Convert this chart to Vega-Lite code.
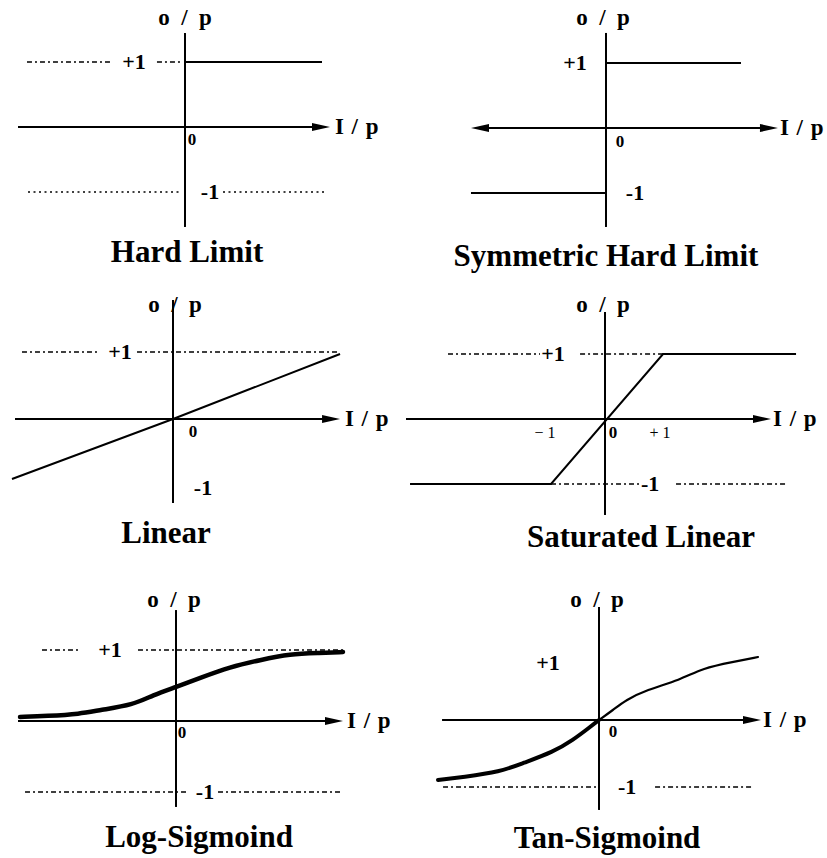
{
"$schema": "https://vega.github.io/schema/vega-lite/v6.json",
"padding": 0,
"background": "white",
"spacing": 0,
"bounds": "flush",
"columns": 2,
"config": {"view": {"stroke": null}, "text": {"font": "Liberation Serif", "color": "black"}},
"concat": [
{"width": 413, "height": 286,
 "data": {"values": [
  {"r": "solid", "x": -2.569, "y": 0, "x2": 1.985, "y2": 0},
  {"r": "solid", "x": 0, "y": 1.446, "x2": 0, "y2": -1.538},
  {"r": "solid", "x": 0, "y": 1, "x2": 2.108, "y2": 1},
  {"r": "dash", "x": -2.431, "y": 1, "x2": -1.108, "y2": 1},
  {"r": "dash", "x": -0.431, "y": 1, "x2": -0.077, "y2": 1},
  {"r": "dot", "x": -2.415, "y": -1, "x2": -0.046, "y2": -1},
  {"r": "dot", "x": 0.585, "y": -1, "x2": 2.154, "y2": -1},
  {"r": "arrowR", "x": 2.231, "y": 0},
  {"r": "lab", "x": -0.785, "y": 1, "t": "+1"},
  {"r": "lab", "x": 0.385, "y": -1, "t": "-1"},
  {"r": "op", "x": 0, "y": 1.677, "t": "o\u2002/\u2002p"},
  {"r": "ip", "x": 2.308, "y": 0, "t": "I\u2004/\u2004p"},
  {"r": "zero", "x": 0.108, "y": -0.2, "t": "0"},
  {"r": "title", "x": 0.031, "y": -2.077, "t": "Hard Limit"}
 ]},
 "encoding": {
  "x": {"field": "x", "type": "quantitative", "scale": {"domain": [-2.846, 3.508], "nice": false, "zero": false}, "axis": null},
  "y": {"field": "y", "type": "quantitative", "scale": {"domain": [-2.446, 1.954], "nice": false, "zero": false}, "axis": null}
 },
 "layer": [
  {"transform": [{"filter": "datum.r == 'solid'"}], "mark": {"type": "rule", "strokeWidth": 2, "color": "black"}, "encoding": {"x2": {"field": "x2"}, "y2": {"field": "y2"}}},
  {"transform": [{"filter": "datum.r == 'dash'"}], "mark": {"type": "rule", "strokeWidth": 1.5, "strokeDash": [5, 3, 2, 3], "color": "black"}, "encoding": {"x2": {"field": "x2"}, "y2": {"field": "y2"}}},
  {"transform": [{"filter": "datum.r == 'dot'"}], "mark": {"type": "rule", "strokeWidth": 1.5, "strokeDash": [2, 3.5], "color": "black"}, "encoding": {"x2": {"field": "x2"}, "y2": {"field": "y2"}}},
  {"transform": [{"filter": "datum.r == 'arrowR'"}], "mark": {"type": "point", "shape": "M-1,-0.45L1,0L-1,0.45Z", "filled": true, "size": 324, "color": "black", "opacity": 1, "xOffset": -9}},
  {"transform": [{"filter": "datum.r == 'lab'"}], "mark": {"type": "text", "fontSize": 22, "fontWeight": "bold"}, "encoding": {"text": {"field": "t"}}},
  {"transform": [{"filter": "datum.r == 'op'"}], "mark": {"type": "text", "fontSize": 23, "fontWeight": "bold"}, "encoding": {"text": {"field": "t"}}},
  {"transform": [{"filter": "datum.r == 'ip'"}], "mark": {"type": "text", "fontSize": 23, "fontWeight": "bold", "align": "left"}, "encoding": {"text": {"field": "t"}}},
  {"transform": [{"filter": "datum.r == 'zero'"}], "mark": {"type": "text", "fontSize": 17, "fontWeight": "bold"}, "encoding": {"text": {"field": "t"}}},
  {"transform": [{"filter": "datum.r == 'title'"}], "mark": {"type": "text", "fontSize": 31, "fontWeight": "bold", "baseline": "alphabetic"}, "encoding": {"text": {"field": "t"}}}
 ]
},
{"width": 413, "height": 286,
 "data": {"values": [
  {"r": "solid", "x": -1.831, "y": 0, "x2": 2.4, "y2": 0},
  {"r": "solid", "x": 0, "y": 1.462, "x2": 0, "y2": -1.523},
  {"r": "solid", "x": 0, "y": 1, "x2": 2.077, "y2": 1},
  {"r": "solid", "x": -2.077, "y": -1, "x2": 0, "y2": -1},
  {"r": "arrowR", "x": 2.646, "y": 0},
  {"r": "arrowL", "x": -2.077, "y": 0},
  {"r": "lab", "x": -0.477, "y": 1, "t": "+1"},
  {"r": "lab", "x": 0.446, "y": -1, "t": "-1"},
  {"r": "op", "x": -0.046, "y": 1.692, "t": "o\u2002/\u2002p"},
  {"r": "ip", "x": 2.677, "y": 0, "t": "I\u2004/\u2004p"},
  {"r": "zero", "x": 0.215, "y": -0.215, "t": "0"},
  {"r": "title", "x": 0, "y": -2.123, "t": "Symmetric Hard Limit"}
 ]},
 "encoding": {
  "x": {"field": "x", "type": "quantitative", "scale": {"domain": [-2.969, 3.385], "nice": false, "zero": false}, "axis": null},
  "y": {"field": "y", "type": "quantitative", "scale": {"domain": [-2.431, 1.969], "nice": false, "zero": false}, "axis": null}
 },
 "layer": [
  {"transform": [{"filter": "datum.r == 'solid'"}], "mark": {"type": "rule", "strokeWidth": 2, "color": "black"}, "encoding": {"x2": {"field": "x2"}, "y2": {"field": "y2"}}},
  {"transform": [{"filter": "datum.r == 'arrowR'"}], "mark": {"type": "point", "shape": "M-1,-0.45L1,0L-1,0.45Z", "filled": true, "size": 324, "color": "black", "opacity": 1, "xOffset": -9}},
  {"transform": [{"filter": "datum.r == 'arrowL'"}], "mark": {"type": "point", "shape": "M1,-0.45L-1,0L1,0.45Z", "filled": true, "size": 324, "color": "black", "opacity": 1, "xOffset": 9}},
  {"transform": [{"filter": "datum.r == 'lab'"}], "mark": {"type": "text", "fontSize": 22, "fontWeight": "bold"}, "encoding": {"text": {"field": "t"}}},
  {"transform": [{"filter": "datum.r == 'op'"}], "mark": {"type": "text", "fontSize": 23, "fontWeight": "bold"}, "encoding": {"text": {"field": "t"}}},
  {"transform": [{"filter": "datum.r == 'ip'"}], "mark": {"type": "text", "fontSize": 23, "fontWeight": "bold", "align": "left"}, "encoding": {"text": {"field": "t"}}},
  {"transform": [{"filter": "datum.r == 'zero'"}], "mark": {"type": "text", "fontSize": 17, "fontWeight": "bold"}, "encoding": {"text": {"field": "t"}}},
  {"transform": [{"filter": "datum.r == 'title'"}], "mark": {"type": "text", "fontSize": 31, "fontWeight": "bold", "baseline": "alphabetic"}, "encoding": {"text": {"field": "t"}}}
 ]
},
{"width": 413, "height": 286,
 "data": {"values": [
  {"r": "solid", "x": -2.358, "y": 0, "x2": 2.254, "y2": 0},
  {"r": "solid", "x": 0, "y": 1.776, "x2": 0, "y2": -1.254},
  {"r": "fn", "x": -2.403, "y": -0.896},
  {"r": "fn", "x": 0, "y": 0},
  {"r": "fn", "x": 2.493, "y": 0.97},
  {"r": "dash", "x": -2.254, "y": 1, "x2": -1.134, "y2": 1},
  {"r": "dash", "x": -0.537, "y": 1, "x2": 2.448, "y2": 1},
  {"r": "arrowR", "x": 2.493, "y": 0},
  {"r": "lab", "x": -0.791, "y": 1, "t": "+1"},
  {"r": "lab", "x": 0.448, "y": -1.03, "t": "-1"},
  {"r": "op", "x": 0.03, "y": 1.701, "t": "o\u2002/\u2002p"},
  {"r": "ip", "x": 2.567, "y": 0, "t": "I\u2004/\u2004p"},
  {"r": "zero", "x": 0.299, "y": -0.194, "t": "0"},
  {"r": "title", "x": -0.104, "y": -1.851, "t": "Linear"}
 ]},
 "encoding": {
  "x": {"field": "x", "type": "quantitative", "scale": {"domain": [-2.582, 3.582], "nice": false, "zero": false}, "axis": null},
  "y": {"field": "y", "type": "quantitative", "scale": {"domain": [-2.284, 1.985], "nice": false, "zero": false}, "axis": null}
 },
 "layer": [
  {"transform": [{"filter": "datum.r == 'solid'"}], "mark": {"type": "rule", "strokeWidth": 2, "color": "black"}, "encoding": {"x2": {"field": "x2"}, "y2": {"field": "y2"}}},
  {"transform": [{"filter": "datum.r == 'dash'"}], "mark": {"type": "rule", "strokeWidth": 1.5, "strokeDash": [5, 3, 2, 3], "color": "black"}, "encoding": {"x2": {"field": "x2"}, "y2": {"field": "y2"}}},
  {"transform": [{"filter": "datum.r == 'fn'"}], "mark": {"type": "line", "strokeWidth": 2, "color": "black"}, "encoding": {}},
  {"transform": [{"filter": "datum.r == 'arrowR'"}], "mark": {"type": "point", "shape": "M-1,-0.45L1,0L-1,0.45Z", "filled": true, "size": 324, "color": "black", "opacity": 1, "xOffset": -9}},
  {"transform": [{"filter": "datum.r == 'lab'"}], "mark": {"type": "text", "fontSize": 22, "fontWeight": "bold"}, "encoding": {"text": {"field": "t"}}},
  {"transform": [{"filter": "datum.r == 'op'"}], "mark": {"type": "text", "fontSize": 23, "fontWeight": "bold"}, "encoding": {"text": {"field": "t"}}},
  {"transform": [{"filter": "datum.r == 'ip'"}], "mark": {"type": "text", "fontSize": 23, "fontWeight": "bold", "align": "left"}, "encoding": {"text": {"field": "t"}}},
  {"transform": [{"filter": "datum.r == 'zero'"}], "mark": {"type": "text", "fontSize": 17, "fontWeight": "bold"}, "encoding": {"text": {"field": "t"}}},
  {"transform": [{"filter": "datum.r == 'title'"}], "mark": {"type": "text", "fontSize": 31, "fontWeight": "bold", "baseline": "alphabetic"}, "encoding": {"text": {"field": "t"}}}
 ]
},
{"width": 413, "height": 286,
 "data": {"values": [
  {"r": "solid", "x": -3.554, "y": 0, "x2": 2.679, "y2": 0},
  {"r": "solid", "x": 0, "y": 1.646, "x2": 0, "y2": -1.477},
  {"r": "fn", "x": -3.482, "y": -1},
  {"r": "fn", "x": -0.964, "y": -1},
  {"r": "fn", "x": 1.036, "y": 1},
  {"r": "fn", "x": 3.411, "y": 1},
  {"r": "dash", "x": -2.804, "y": 1, "x2": -1.161, "y2": 1},
  {"r": "dash", "x": -0.446, "y": 1, "x2": 1.036, "y2": 1},
  {"r": "dash", "x": -0.964, "y": -1, "x2": 0.625, "y2": -1},
  {"r": "dash", "x": 1.268, "y": -1, "x2": 3.268, "y2": -1},
  {"r": "arrowR", "x": 2.964, "y": 0},
  {"r": "lab", "x": -0.929, "y": 1, "t": "+1"},
  {"r": "lab", "x": 0.804, "y": -1, "t": "-1"},
  {"r": "tick", "x": -1.071, "y": -0.215, "t": "\u2212 1"},
  {"r": "tick", "x": 0.982, "y": -0.215, "t": "+ 1"},
  {"r": "zero", "x": 0.143, "y": -0.215, "t": "0"},
  {"r": "op", "x": -0.036, "y": 1.754, "t": "o\u2002/\u2002p"},
  {"r": "ip", "x": 3.0, "y": 0, "t": "I\u2004/\u2004p"},
  {"r": "title", "x": 0.643, "y": -1.969, "t": "Saturated Linear"}
 ]},
 "encoding": {
  "x": {"field": "x", "type": "quantitative", "scale": {"domain": [-3.429, 3.946], "nice": false, "zero": false}, "axis": null},
  "y": {"field": "y", "type": "quantitative", "scale": {"domain": [-2.354, 2.046], "nice": false, "zero": false}, "axis": null}
 },
 "layer": [
  {"transform": [{"filter": "datum.r == 'solid'"}], "mark": {"type": "rule", "strokeWidth": 2, "color": "black"}, "encoding": {"x2": {"field": "x2"}, "y2": {"field": "y2"}}},
  {"transform": [{"filter": "datum.r == 'dash'"}], "mark": {"type": "rule", "strokeWidth": 1.5, "strokeDash": [5, 3, 2, 3], "color": "black"}, "encoding": {"x2": {"field": "x2"}, "y2": {"field": "y2"}}},
  {"transform": [{"filter": "datum.r == 'fn'"}], "mark": {"type": "line", "strokeWidth": 2, "color": "black"}, "encoding": {}},
  {"transform": [{"filter": "datum.r == 'arrowR'"}], "mark": {"type": "point", "shape": "M-1,-0.45L1,0L-1,0.45Z", "filled": true, "size": 324, "color": "black", "opacity": 1, "xOffset": -9}},
  {"transform": [{"filter": "datum.r == 'lab'"}], "mark": {"type": "text", "fontSize": 22, "fontWeight": "bold"}, "encoding": {"text": {"field": "t"}}},
  {"transform": [{"filter": "datum.r == 'tick'"}], "mark": {"type": "text", "fontSize": 16}, "encoding": {"text": {"field": "t"}}},
  {"transform": [{"filter": "datum.r == 'op'"}], "mark": {"type": "text", "fontSize": 23, "fontWeight": "bold"}, "encoding": {"text": {"field": "t"}}},
  {"transform": [{"filter": "datum.r == 'ip'"}], "mark": {"type": "text", "fontSize": 23, "fontWeight": "bold", "align": "left"}, "encoding": {"text": {"field": "t"}}},
  {"transform": [{"filter": "datum.r == 'zero'"}], "mark": {"type": "text", "fontSize": 17, "fontWeight": "bold"}, "encoding": {"text": {"field": "t"}}},
  {"transform": [{"filter": "datum.r == 'title'"}], "mark": {"type": "text", "fontSize": 31, "fontWeight": "bold", "baseline": "alphabetic"}, "encoding": {"text": {"field": "t"}}}
 ]
},
{"width": 413, "height": 286,
 "data": {"values": [
  {"r": "solid", "x": -2.431, "y": 0, "x2": 2.323, "y2": 0},
  {"r": "solid", "x": 0, "y": 1.563, "x2": 0, "y2": -1.211},
  {"r": "fn", "x": -2.4, "y": 0.056},
  {"r": "fn", "x": -1.985, "y": 0.07},
  {"r": "fn", "x": -1.477, "y": 0.099},
  {"r": "fn", "x": -1.169, "y": 0.155},
  {"r": "fn", "x": -0.662, "y": 0.225},
  {"r": "fn", "x": -0.354, "y": 0.366},
  {"r": "fn", "x": 0, "y": 0.479},
  {"r": "fn", "x": 0.369, "y": 0.606},
  {"r": "fn", "x": 0.831, "y": 0.761},
  {"r": "fn", "x": 1.292, "y": 0.859},
  {"r": "fn", "x": 1.754, "y": 0.944},
  {"r": "fn", "x": 2.215, "y": 0.958},
  {"r": "fn", "x": 2.569, "y": 0.972},
  {"r": "dash", "x": -2.062, "y": 1, "x2": -1.508, "y2": 1},
  {"r": "dash", "x": -0.585, "y": 1, "x2": 2.569, "y2": 1},
  {"r": "dash", "x": -2.323, "y": -1, "x2": 0.2, "y2": -1},
  {"r": "dash", "x": 0.646, "y": -1, "x2": 2.569, "y2": -1},
  {"r": "arrowR", "x": 2.569, "y": 0},
  {"r": "lab", "x": -1.015, "y": 1, "t": "+1"},
  {"r": "lab", "x": 0.446, "y": -1, "t": "-1"},
  {"r": "op", "x": -0.03, "y": 1.704, "t": "o\u2002/\u2002p"},
  {"r": "ip", "x": 2.631, "y": 0, "t": "I\u2004/\u2004p"},
  {"r": "zero", "x": 0.092, "y": -0.169, "t": "0"},
  {"r": "title", "x": 0.354, "y": -1.775, "t": "Log-Sigmoind"}
 ]},
 "encoding": {
  "x": {"field": "x", "type": "quantitative", "scale": {"domain": [-2.708, 3.646], "nice": false, "zero": false}, "axis": null},
  "y": {"field": "y", "type": "quantitative", "scale": {"domain": [-1.93, 2.099], "nice": false, "zero": false}, "axis": null}
 },
 "layer": [
  {"transform": [{"filter": "datum.r == 'solid'"}], "mark": {"type": "rule", "strokeWidth": 2, "color": "black"}, "encoding": {"x2": {"field": "x2"}, "y2": {"field": "y2"}}},
  {"transform": [{"filter": "datum.r == 'dash'"}], "mark": {"type": "rule", "strokeWidth": 1.5, "strokeDash": [5, 3, 2, 3], "color": "black"}, "encoding": {"x2": {"field": "x2"}, "y2": {"field": "y2"}}},
  {"transform": [{"filter": "datum.r == 'fn'"}], "mark": {"type": "line", "strokeWidth": 4.5, "color": "black", "strokeCap": "round", "interpolate": "basis"}, "encoding": {}},
  {"transform": [{"filter": "datum.r == 'arrowR'"}], "mark": {"type": "point", "shape": "M-1,-0.45L1,0L-1,0.45Z", "filled": true, "size": 324, "color": "black", "opacity": 1, "xOffset": -9}},
  {"transform": [{"filter": "datum.r == 'lab'"}], "mark": {"type": "text", "fontSize": 22, "fontWeight": "bold"}, "encoding": {"text": {"field": "t"}}},
  {"transform": [{"filter": "datum.r == 'op'"}], "mark": {"type": "text", "fontSize": 23, "fontWeight": "bold"}, "encoding": {"text": {"field": "t"}}},
  {"transform": [{"filter": "datum.r == 'ip'"}], "mark": {"type": "text", "fontSize": 23, "fontWeight": "bold", "align": "left"}, "encoding": {"text": {"field": "t"}}},
  {"transform": [{"filter": "datum.r == 'zero'"}], "mark": {"type": "text", "fontSize": 17, "fontWeight": "bold"}, "encoding": {"text": {"field": "t"}}},
  {"transform": [{"filter": "datum.r == 'title'"}], "mark": {"type": "text", "fontSize": 31, "fontWeight": "bold", "baseline": "alphabetic"}, "encoding": {"text": {"field": "t"}}}
 ]
},
{"width": 413, "height": 286,
 "data": {"values": [
  {"r": "solid", "x": -2.415, "y": 0, "x2": 2.246, "y2": 0},
  {"r": "solid", "x": 0, "y": 1.687, "x2": 0, "y2": -1.343},
  {"r": "fn", "x": -2.477, "y": -0.896},
  {"r": "fn", "x": -2.092, "y": -0.851},
  {"r": "fn", "x": -1.523, "y": -0.776},
  {"r": "fn", "x": -1.169, "y": -0.642},
  {"r": "fn", "x": -0.708, "y": -0.478},
  {"r": "fn", "x": -0.4, "y": -0.299},
  {"r": "fn", "x": -0.138, "y": -0.104},
  {"r": "fn", "x": 0, "y": 0},
  {"r": "fn", "x": 0.215, "y": 0.149},
  {"r": "fn", "x": 0.415, "y": 0.299},
  {"r": "fn", "x": 0.723, "y": 0.448},
  {"r": "fn", "x": 1.246, "y": 0.597},
  {"r": "fn", "x": 1.6, "y": 0.776},
  {"r": "fn", "x": 2.062, "y": 0.866},
  {"r": "fn", "x": 2.446, "y": 0.94},
  {"r": "dash", "x": -2.4, "y": -1, "x2": 0.015, "y2": -1},
  {"r": "dash", "x": 0.862, "y": -1, "x2": 2.369, "y2": -1},
  {"r": "arrowR", "x": 2.492, "y": 0},
  {"r": "lab", "x": -0.785, "y": 0.851, "t": "+1"},
  {"r": "lab", "x": 0.431, "y": -1, "t": "-1"},
  {"r": "op", "x": -0.03, "y": 1.791, "t": "o\u2002/\u2002p"},
  {"r": "ip", "x": 2.523, "y": 0, "t": "I\u2004/\u2004p"},
  {"r": "zero", "x": 0.215, "y": -0.179, "t": "0"},
  {"r": "title", "x": 0.123, "y": -1.91, "t": "Tan-Sigmoind"}
 ]},
 "encoding": {
  "x": {"field": "x", "type": "quantitative", "scale": {"domain": [-2.862, 3.492], "nice": false, "zero": false}, "axis": null},
  "y": {"field": "y", "type": "quantitative", "scale": {"domain": [-2.06, 2.209], "nice": false, "zero": false}, "axis": null}
 },
 "layer": [
  {"transform": [{"filter": "datum.r == 'solid'"}], "mark": {"type": "rule", "strokeWidth": 2, "color": "black"}, "encoding": {"x2": {"field": "x2"}, "y2": {"field": "y2"}}},
  {"transform": [{"filter": "datum.r == 'dash'"}], "mark": {"type": "rule", "strokeWidth": 1.5, "strokeDash": [5, 3, 2, 3], "color": "black"}, "encoding": {"x2": {"field": "x2"}, "y2": {"field": "y2"}}},
  {"transform": [{"filter": "datum.r == 'fn' && datum.x <= 0"}], "mark": {"type": "line", "strokeWidth": 4, "color": "black", "strokeCap": "round", "interpolate": "basis"}, "encoding": {}},
  {"transform": [{"filter": "datum.r == 'fn' && datum.x >= 0"}], "mark": {"type": "line", "strokeWidth": 2.2, "color": "black", "strokeCap": "round", "interpolate": "basis"}, "encoding": {}},
  {"transform": [{"filter": "datum.r == 'arrowR'"}], "mark": {"type": "point", "shape": "M-1,-0.45L1,0L-1,0.45Z", "filled": true, "size": 324, "color": "black", "opacity": 1, "xOffset": -9}},
  {"transform": [{"filter": "datum.r == 'lab'"}], "mark": {"type": "text", "fontSize": 22, "fontWeight": "bold"}, "encoding": {"text": {"field": "t"}}},
  {"transform": [{"filter": "datum.r == 'op'"}], "mark": {"type": "text", "fontSize": 23, "fontWeight": "bold"}, "encoding": {"text": {"field": "t"}}},
  {"transform": [{"filter": "datum.r == 'ip'"}], "mark": {"type": "text", "fontSize": 23, "fontWeight": "bold", "align": "left"}, "encoding": {"text": {"field": "t"}}},
  {"transform": [{"filter": "datum.r == 'zero'"}], "mark": {"type": "text", "fontSize": 17, "fontWeight": "bold"}, "encoding": {"text": {"field": "t"}}},
  {"transform": [{"filter": "datum.r == 'title'"}], "mark": {"type": "text", "fontSize": 31, "fontWeight": "bold", "baseline": "alphabetic"}, "encoding": {"text": {"field": "t"}}}
 ]
}
]
}
